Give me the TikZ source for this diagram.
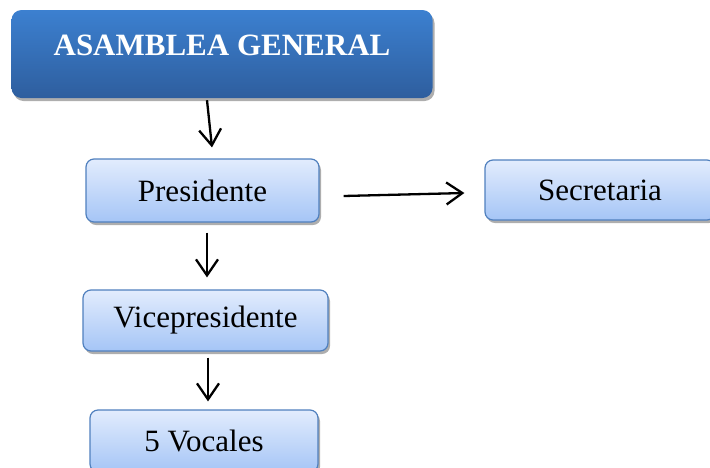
\documentclass[tikz,border=0pt]{standalone}
\usepackage{fontspec}
\setmainfont{Liberation Serif}
\usetikzlibrary{arrows.meta,shadows,calc}

\definecolor{boxTop}{RGB}{226,236,253}
\definecolor{boxBottom}{RGB}{165,197,246}
\definecolor{boxLine}{RGB}{80,128,190}
\definecolor{mainTop}{RGB}{60,128,208}
\definecolor{mainBottom}{RGB}{46,94,158}

\begin{document}
\begin{tikzpicture}[x=1pt, y=-1pt,
        every node/.style={font=\fontsize{31}{36}\selectfont}]
        \tikzstyle{mainBox} = [rounded corners=10pt, top color=mainTop, bottom color=mainBottom,
            draw=none, text=white, font=\fontsize{31}{36}\selectfont\bfseries,
            drop shadow={shadow xshift=2pt, shadow yshift=-3pt, fill=black!45, opacity=.7}]
        \tikzstyle{subBox} = [rounded corners=8pt, top color=boxTop, bottom color=boxBottom,
            draw=boxLine, line width=1.2pt,
            drop shadow={shadow xshift=2pt, shadow yshift=-3pt, fill=black!45, opacity=.7}]
        \tikzstyle{arrowLine} = [draw=black, line width=2.3pt, -{Straight Barb[length=16pt,width=22pt]}]
        \useasboundingbox (0,0) rectangle (710,467);
        \node[mainBox, minimum width=421, minimum height=88, text height=22pt, text depth=20pt]
            (asamblea) at (222,54) {ASAMBLEA GENERAL};
        \node[subBox, minimum width=233, minimum height=63] (presidente) at (202.5,190.5) {Presidente};
        \node[subBox, minimum width=230, minimum height=60] (secretaria) at (600,190) {Secretaria};
        \node[subBox, minimum width=245, minimum height=61] (vice) at (205.5,320.5) {Vicepresidente};
        \node[subBox, minimum width=228, minimum height=62] (vocales) at (204,441) {5 Vocales};
        \draw[arrowLine] ($(asamblea.south)+(-15,2)$) -- ($(presidente.north)+(9.5,-11)$);
        \draw[arrowLine] ($(presidente.south)+(4.5,10)$) -- ($(vice.north)+(1.5,-12)$);
        \draw[arrowLine] ($(vice.south)+(2.5,6)$) -- ($(vocales.north)+(4,-8)$);
        \draw[arrowLine] ($(presidente.east)+(24,5.5)$) -- ($(secretaria.west)+(-20,3)$);
    \end{tikzpicture}
\end{document}
